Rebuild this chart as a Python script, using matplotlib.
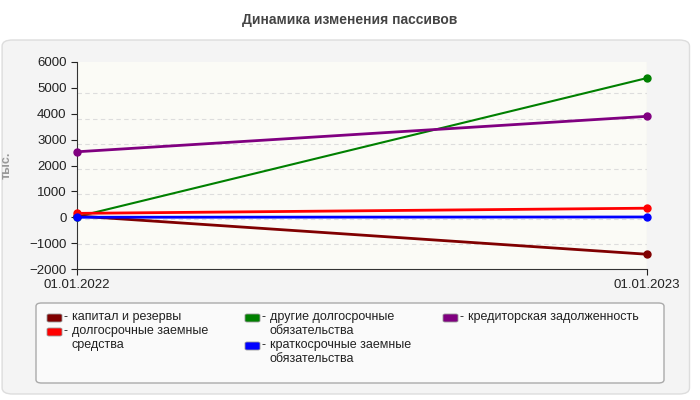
import matplotlib
matplotlib.use("Agg")
import matplotlib.pyplot as plt
from matplotlib.patches import FancyBboxPatch

dates = ["01.01.2022", "01.01.2023"]
series_names = ["капитал и резервы", "долгосрочные заемные\nсредства",
                "другие долгосрочные\nобязательства", "краткосрочные заемные\nобязательства",
                "кредиторская задолженность"]
capital = [50, -1430]
long_loans = [150, 350]
other_long = [20, 5380]
short_loans = [0, 10]
creditors = [2530, 3900]
colors = ["#800000", "#ff0000", "#008000", "#0000ff", "#800080"]
yticks = list(range(-2000, 6001, 1000))
grid_vals = [-1029, -60, 897, 1866, 2835, 3804, 4786]

plt.rcParams['font.family'] = ['Liberation Sans', 'DejaVu Sans']
fig = plt.figure(figsize=(7, 4), dpi=100)
fig.patch.set_facecolor("white")
bg = FancyBboxPatch((0.003, 0.015), 0.982, 0.885, boxstyle="round,pad=0,rounding_size=0.015",
                    transform=fig.transFigure, facecolor="#f4f4f4", edgecolor="#dddddd", lw=1, zorder=-5)
fig.patches.append(bg)
fig.text(0.5, 0.95, "Динамика изменения пассивов", ha="center", va="center",
         fontsize=10, fontweight="bold", color="#444444")

ax = fig.add_axes([77/700, 1-269/400, 570/700, 207/400], zorder=2)
ax.set_facecolor("#fbfbf6")
for y in grid_vals:
    ax.axhline(y, color="#dddddd", lw=0.8, ls=(0, (4, 3)), zorder=0)
x = [0, 1]
data = [capital, long_loans, other_long, short_loans, creditors]
order = [2, 4, 0, 1, 3]
for i in order:
    ax.plot(x, data[i], color=colors[i], lw=2 if i != 2 else 1.5, marker="o", ms=5,
            zorder=3, clip_on=False)
ax.set_xlim(0, 1)
ax.set_ylim(-2000, 6000)
ax.set_yticks(yticks)
ax.set_xticks(x)
ax.set_xticklabels(dates)
ax.tick_params(labelsize=9.5, colors="#222222", length=4)
for s in ["top", "right"]:
    ax.spines[s].set_visible(False)
ax.axvline(1, color="#cccccc", lw=0.8)
ax.spines["left"].set_color("#333333")
ax.spines["bottom"].set_color("#333333")
ax.set_ylabel("тыс.", fontsize=9, fontweight="bold", color="#999999", labelpad=12)

lg = FancyBboxPatch((36/700, 1-383/400), 628/700, 80/400, boxstyle="round,pad=0,rounding_size=0.008",
                    transform=fig.transFigure, facecolor="#fafafa", edgecolor="#aaaaaa", lw=1, zorder=1)
fig.patches.append(lg)
pos = [(47, 318), (47, 332), (245, 318), (245, 346), (443, 318)]
for (px, py), name, c in zip(pos, series_names, colors):
    fig.patches.append(FancyBboxPatch((px/700, 1-(py+4)/400), 15/700, 8/400,
                       boxstyle="round,pad=0,rounding_size=0.003", transform=fig.transFigure,
                       facecolor=c, edgecolor="#999999", lw=0.6, zorder=2))
    fig.text((px+17)/700, 1-(py-7)/400, "-", fontsize=9, va="top", ha="left", color="#222222", zorder=3)
    fig.text((px+25)/700, 1-(py-7)/400, name, fontsize=9, va="top", ha="left",
             color="#222222", linespacing=1.2, zorder=3)
fig.savefig("out.png", dpi=100)
